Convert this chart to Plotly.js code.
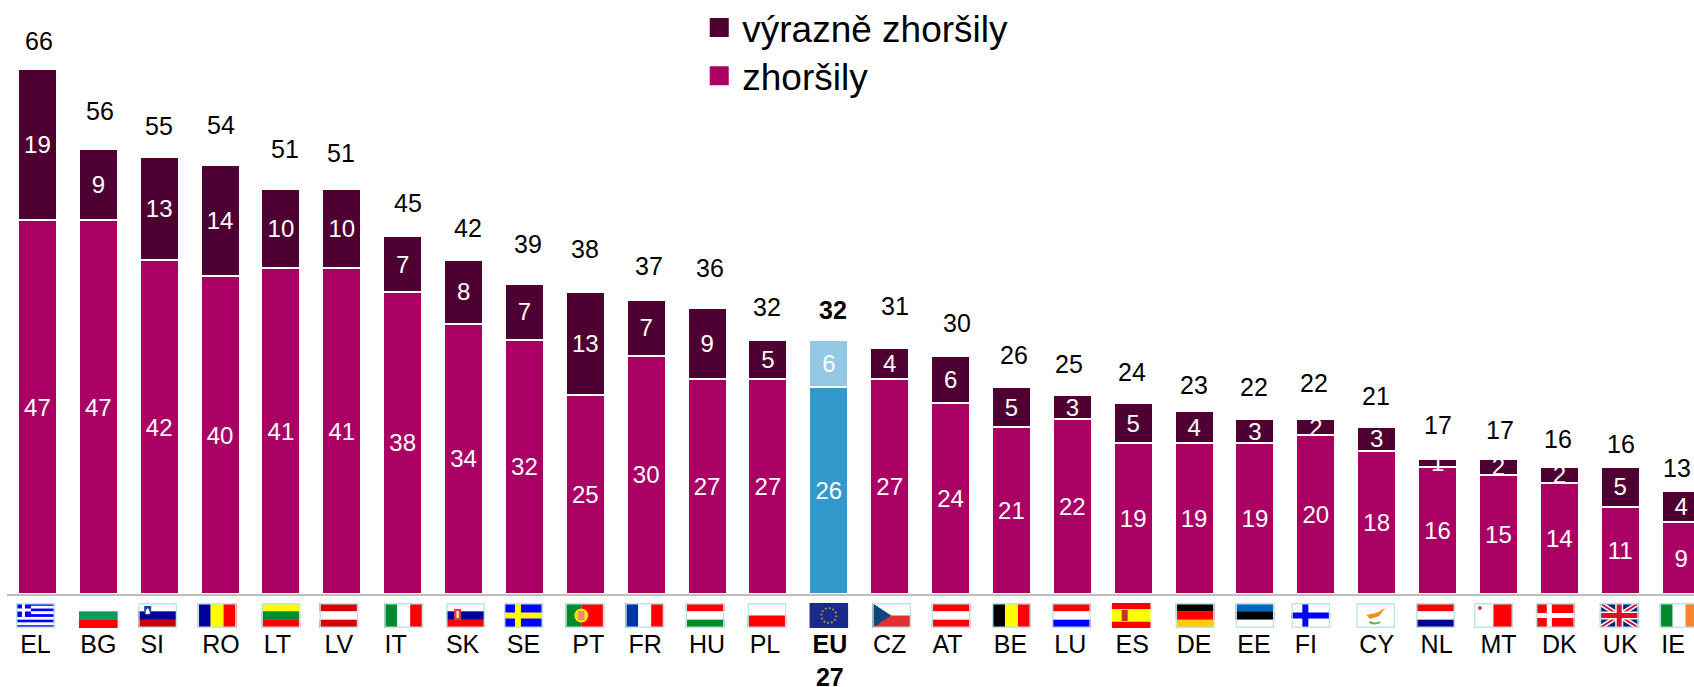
<!DOCTYPE html>
<html><head><meta charset="utf-8">
<script src="https://cdn.plot.ly/plotly-3.0.1.min.js"></script>
<style>html,body{margin:0;padding:0;background:#fff;overflow:hidden}</style>
</head><body><div id="chart" style="width:1694px;height:687px"></div>
<script>
const countries=["EL","BG","SI","RO","LT","LV","IT","SK","SE","PT","FR","HU","PL","EU 27","CZ","AT","BE","LU","ES","DE","EE","FI","CY","NL","MT","DK","UK","IE"];
const zhorsily=[47,47,42,40,41,41,38,34,32,25,30,27,27,26,27,24,21,22,19,19,19,20,18,16,15,14,11,9];
const vyrazne=[19,9,13,14,10,10,7,8,7,13,7,9,5,6,4,6,5,3,5,4,3,2,3,1,2,2,5,4];
const totals=[66,56,55,54,51,51,45,42,39,38,37,36,32,32,31,30,26,25,24,23,22,22,21,17,17,16,16,13];
// label and flag nudges (px) seen in the reference
const tickNudge=[-2,0,-7,1,-3.5,-3,-7,-1,-1,3,-1,0,-3,1,0,-3,-1,-2,-1,0,-1,-10,0,-1,0,0,0,-8];
const flagNudge=[-2,0,-1.5,-3,0,-3,1,2,-1,-.5,-1.5,-2,-1,0,2,.5,0,-1,-2,1,0,-5,-1,-2,-5,-4,-1,-2];
const totalGapY=[28,38,31,40,40,36,33,32,40,43,34,40,33,30,42,33,32,31,31,26,32,36,31,34,29,28,23,23];
const totalNudgeX=[2,2,0,1,4,-1,5,4,4,0,3,3,-1,4,5,6,3,-3,-1,0,-1,-2,-1,0,2,-1,1,-4];

const PITCH=60.89, PX=7.95, BASE=594;
const EU=13;
const x=countries.map((_,i)=>i);
const stripes=(dir,cols)=>{const n=cols.length;return cols.map((c,i)=>dir==='h'
  ?`<rect x="0" y="${i*25/n}" width="39" height="${25/n+.2}" fill="${c}"/>`
  :`<rect x="${i*39/n}" y="0" width="${39/n+.2}" height="25" fill="${c}"/>`).join('');};
const R="#FF0000",W="#FFFFFF",B="#0000FF",N="#000099",G="#008A2E",Y="#FFFF00";
const flagArt={
 EL:stripes('h',[B,W,B,W,B,W,B,W,B])+`<rect width="15" height="14" fill="${B}"/><rect x="6" width="3" height="14" fill="#fff"/><rect y="5.5" width="15" height="3" fill="#fff"/>`,
 BG:stripes('h',[W,"#109A5A",R]),
 SI:stripes('h',[W,N,"#C80000"])+`<path d="M6 3h7v7q-3.500 5-7 0z" fill="#2040A0"/><path d="M7.500 8l2-3 2 3v3h-4z" fill="#fff"/>`,
 RO:stripes('v',[N,Y,R]),LT:stripes('h',[Y,"#008A2E",R]),LV:stripes('h',["#D80000",W,"#D80000"]),
 IT:stripes('v',[G,W,R]),SK:stripes('h',[W,N,R])+`<rect x="8" y="6" width="7" height="11" fill="#E04040"/><rect x="10.500" y="8" width="2" height="7" fill="#fff"/>`,
 SE:stripes('h',[B])+`<rect x="11" width="6" height="25" fill="${Y}"/><rect y="9.500" width="39" height="6" fill="${Y}"/>`,
 PT:`<rect width="16" height="25" fill="#008A2E"/><rect x="16" width="23" height="25" fill="${R}"/><circle cx="16" cy="12.500" r="7" fill="#FFE000"/><rect x="13" y="8" width="6" height="9" fill="#E88"/>`,
 FR:stripes('v',["#0033AA",W,R]),HU:stripes('h',[R,W,"#008A2E"]),PL:stripes('h',[W,R]),
 "EU 27":stripes('h',["#1A2A8C"])+`<circle cx="19.500" cy="12.500" r="7.500" fill="none" stroke="#C8B020" stroke-width="1.600" stroke-dasharray="1.600 2.300"/>`,
 CZ:stripes('h',[W,"#E03030"])+`<path d="M0 0L19 12.500L0 25Z" fill="#11457E"/>`,
 AT:stripes('h',[R,W,R]),BE:stripes('v',["#000",Y,R]),LU:stripes('h',[R,W,B]),
 ES:stripes('h',[R,Y,Y,R])+`<rect x="10" y="7" width="6" height="11" fill="#D03020"/>`,
 DE:stripes('h',["#000",R,"#FFCC00"]),EE:stripes('h',["#0066BB","#000",W]),
 FI:stripes('h',[W])+`<rect x="11" width="6" height="25" fill="${B}"/><rect y="9.500" width="39" height="6" fill="${B}"/>`,
 CY:stripes('h',[W])+`<path d="M10 12l10-2 9-5-6 8-9 3z" fill="#F09020"/><path d="M13 19q6 3 11 0" fill="none" stroke="#60B060" stroke-width="2"/>`,
 NL:stripes('h',[R,W,N]),MT:stripes('v',[W,R])+`<circle cx="6" cy="5" r="2" fill="#C04040"/>`,
 DK:stripes('h',[R])+`<rect x="11" width="5" height="25" fill="#fff"/><rect y="10" width="39" height="5" fill="#fff"/>`,
 UK:stripes('h',["#00247D"])+`<path d="M0 0L39 25M39 0L0 25" stroke="#fff" stroke-width="5"/><path d="M0 0L39 25M39 0L0 25" stroke="#CF142B" stroke-width="2"/><rect x="15.500" width="8" height="25" fill="#fff"/><rect y="8.500" width="39" height="8" fill="#fff"/><rect x="17" width="5" height="25" fill="#CF142B"/><rect y="10" width="39" height="5" fill="#CF142B"/>`,
 IE:stripes('v',[G,W,"#FF8030"])
};
const borderless=["BG","ES","EU 27"];
const flagURI=c=>'data:image/svg+xml;utf8,'+encodeURIComponent(
 `<svg xmlns="http://www.w3.org/2000/svg" width="39" height="25" viewBox="0 0 39 25" preserveAspectRatio="none">${flagArt[c]}${borderless.includes(c)?'':'<rect x=".75" y=".75" width="37.500" height="23.500" fill="none" stroke="#BFE3E6" stroke-width="1.500"/>'}</svg>`);

const L=6.6, RIGHT=1694, TOP=0;
const plotH=BASE-TOP;
const ymax=plotH/PX;
const trace=(name,vals,color,euColor)=>({type:'bar',name,x,y:vals,width:0.64,
  marker:{color:x.map(i=>i===EU?euColor:color),line:{color:'#FFFFFF',width:2}},
  text:vals.map(String),textposition:'inside',insidetextanchor:'middle',constraintext:'none',
  textangle:0,insidetextfont:{color:'#FFFFFF',size:24,family:'"Liberation Sans",Arial,sans-serif'},
  hoverinfo:'skip',cliponaxis:false});
const data=[trace('zhoršily',zhorsily,'#AA0063','#3399CC'),trace('výrazně zhoršily',vyrazne,'#4F0032','#93C9E5')];
const layout={
  width:1694,height:687,margin:{l:L,r:0,t:TOP,b:687-BASE,pad:0},paper_bgcolor:'#fff',plot_bgcolor:'#fff',
  font:{family:'"Liberation Sans",Arial,sans-serif',color:'#000'},
  barmode:'stack',showlegend:true,
  legend:{x:(702-L)/(RIGHT-L),y:1,xanchor:'left',yanchor:'top',yref:'paper',bgcolor:'rgba(0,0,0,0)',
    font:{size:37,color:'#000'},itemclick:false,itemdoubleclick:false,traceorder:'reversed'},
  xaxis:{type:'linear',range:[-0.5,(RIGHT-L)/PITCH-0.5],showgrid:false,zeroline:false,showline:true,linecolor:'#BEBEBE',linewidth:2,
    tickmode:'array',tickvals:x.map(i=>i+tickNudge[i]/PITCH),
    ticktext:countries.map((c,i)=>i===EU?'<b>EU</b><br><b>27</b>':c),
    ticks:'outside',ticklen:27,tickcolor:'rgba(0,0,0,0)',tickwidth:1,tickangle:0,
    tickfont:{size:25,color:'#000'},automargin:false},
  yaxis:{range:[0,ymax],visible:false,fixedrange:true},
  annotations:x.map(i=>({xref:'x',yref:'y',x:i,y:totals[i],text:i===EU?`<b>${totals[i]}</b>`:String(totals[i]),
     showarrow:false,yanchor:'middle',xanchor:'center',yshift:totalGapY[i],xshift:totalNudgeX[i],font:{size:25,color:'#000'}})),
  images:countries.map((c,i)=>({source:flagURI(c),xref:'x',yref:'paper',x:i+flagNudge[i]/PITCH,y:-9/plotH,sizex:39/PITCH,sizey:25/plotH,
     xanchor:'center',yanchor:'top',sizing:'stretch',layer:'above'}))
};
Plotly.newPlot('chart',data,layout,{displayModeBar:false,responsive:false}).then(()=>{
  document.querySelectorAll('.legend .legendpoints path').forEach(p=>{
    const t=p.getAttribute('transform')||'';
    p.setAttribute('transform',t+' translate(-3,0) scale(1.9)');
  });
  const items=document.querySelectorAll('.legend .traces');
  const lift=[3,6];
  items.forEach((it,k)=>{
    const t=it.getAttribute('transform')||'';
    it.setAttribute('transform',t+` translate(0,${-lift[k]})`);
  });
});
</script></body></html>
